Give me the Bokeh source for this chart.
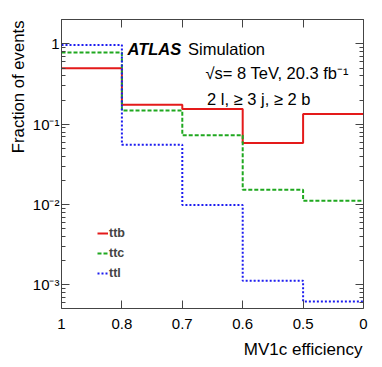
from bokeh.plotting import figure
from bokeh.models import (Range1d, FixedTicker, LogAxis, LinearAxis, Label, Title,
                          Legend, LegendItem, LogTicker, CustomJSTickFormatter)
from bokeh.embed import file_html
from bokeh.resources import INLINE

# ---- data -------------------------------------------------------------
bin_edges = [0, 1, 2, 3, 4, 5]
edge_labels = ["1", "0.8", "0.7", "0.6", "0.5", "0"]
ttb = [0.496, 0.175, 0.155, 0.0585, 0.134]
ttc = [0.779, 0.148, 0.0727, 0.0153, 0.0112]
ttl = [0.97, 0.0557, 0.0099, 0.00113, 0.000623]
series_names = ["ttb", "ttc", "ttl"]
y_tick_labels = {1.0: "1", 0.1: "10\u207b\u00b9", 0.01: "10\u207b\u00b2", 0.001: "10\u207b\u00b3"}

FONT = "Liberation Sans"
AX = "#444444"

p = figure(width=382, height=367, output_backend="svg", toolbar_location=None,
           y_axis_type="log",
           x_range=Range1d(bin_edges[0], bin_edges[-1]),
           y_range=Range1d(5.1e-4, 2.007),
           min_border_left=61, min_border_right=19, min_border_top=19,
           min_border_bottom=59)
p.grid.visible = False
p.outline_line_color = None
p.background_fill_color = "white"
p.border_fill_color = "white"

def style_axis(ax, size="15px"):
    ax.axis_line_color = AX
    ax.major_tick_line_color = AX
    ax.minor_tick_line_color = AX
    ax.major_tick_out = 0
    ax.minor_tick_out = 0
    ax.major_tick_in = 8
    ax.minor_tick_in = 4
    ax.major_label_text_font = FONT
    ax.major_label_text_color = "black"
    ax.major_label_text_font_size = size

xb = p.xaxis[0]
xb.ticker = FixedTicker(ticks=bin_edges)
xb.major_label_overrides = {e: l for e, l in zip(bin_edges, edge_labels)}
style_axis(xb)
xb.major_label_standoff = 10

yl = p.yaxis[0]
yl.ticker = LogTicker(num_minor_ticks=10)
yl.major_label_overrides = y_tick_labels
style_axis(yl)
yl.major_label_standoff = 2

blank = CustomJSTickFormatter(code="return ''")
xt = LinearAxis(ticker=FixedTicker(ticks=bin_edges), formatter=blank)
style_axis(xt)
xt.major_label_standoff = 0
p.add_layout(xt, "above")

yr = LogAxis(ticker=LogTicker(num_minor_ticks=10), formatter=blank)
style_axis(yr)
yr.major_label_standoff = 0
p.add_layout(yr, "right")

# axis titles, right/top aligned as in ROOT
p.add_layout(Title(text="MV1c efficiency", align="right", offset=1, standoff=12,
                   text_font=FONT, text_font_size="17px", text_font_style="normal",
                   text_color="black"), "below")
p.add_layout(Title(text="Fraction of events", align="right", offset=1, standoff=4,
                   text_font=FONT, text_font_size="16.7px", text_font_style="normal",
                   text_color="black"), "left")

# ---- histograms ---------------------------------------------------------
styles = [("#e41a1a", "solid"), ("#1fa81f", "4 2"), ("#1c1cf0", "2 2")]
renderers = []
for vals, (col, dash) in zip([ttb, ttc, ttl], styles):
    r = p.step(bin_edges, vals + [vals[-1]], mode="after", line_color=col,
               line_width=2, line_dash=dash)
    renderers.append(r)

legend = Legend(items=[LegendItem(label=n, renderers=[r]) for n, r in zip(series_names, renderers)],
                location=(36, 25), glyph_width=11, glyph_height=20, label_height=20,
                label_standoff=1, spacing=0, padding=0, margin=0,
                label_text_font=FONT, label_text_font_size="12.5px",
                label_text_font_style="bold", background_fill_alpha=0,
                border_line_alpha=0)
p.add_layout(legend)

# ---- texts ----------------------------------------------------------------
def lab(x, y, text, size="16.5px", style="normal", align="left", angle=0):
    p.add_layout(Label(x=x, y=y, x_units="screen", y_units="screen", text=text,
                       text_font=FONT, text_font_size=size, text_font_style=style,
                       text_align=align, text_baseline="alphabetic", angle=angle,
                       text_color="black"))

lab(66, 260, "ATLAS", style="bold italic")
lab(126.5, 260, "Simulation")
lab(144, 236, "\u221as= 8 TeV, 20.3 fb\u207b\u00b9")
lab(145.5, 209.5, "2 l, \u2265 3 j, \u2265 2 b")

open("out.html", "w").write(file_html(p, INLINE))
